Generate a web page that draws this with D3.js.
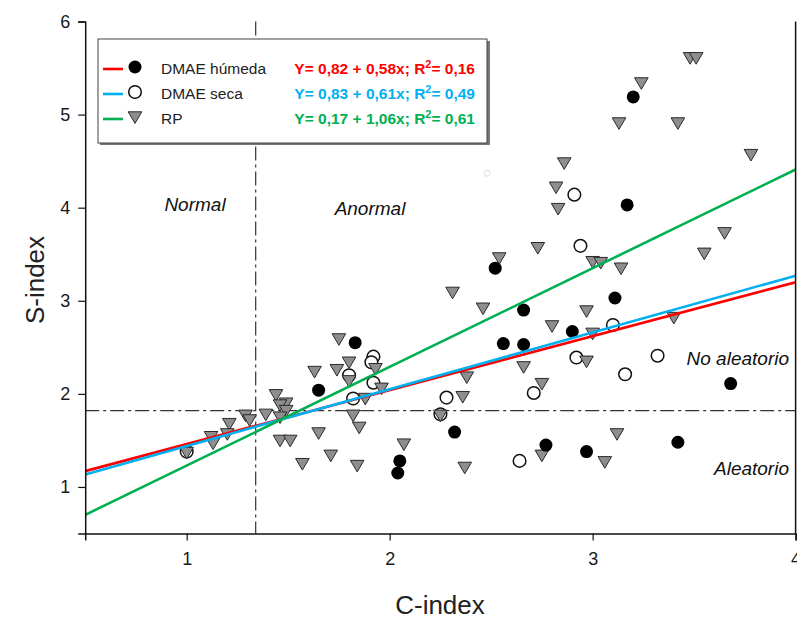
<!DOCTYPE html>
<html>
<head>
<meta charset="utf-8">
<script src="https://cdn.jsdelivr.net/npm/d3@7"></script>
<style>
  body { margin: 0; background: #fff; }
  text { font-family: Arial, "Liberation Sans", sans-serif; }
</style>
</head>
<body>
<div id="graphic"></div>
<script>
// C-index / S-index pairs
const humeda = [
  [1.83, 2.55], [1.65, 2.04], [2.05, 1.28], [2.04, 1.15], [2.32, 1.59],
  [2.52, 3.35], [2.56, 2.54], [2.66, 2.53], [2.66, 2.90], [2.90, 2.67],
  [3.11, 3.03], [3.17, 4.03], [3.20, 5.19], [2.77, 1.45], [2.97, 1.38],
  [3.42, 1.48], [3.68, 2.11]
];
const seca = [
  [1.00, 1.38], [1.92, 2.40], [1.91, 2.34], [1.80, 2.20], [1.92, 2.12],
  [1.82, 1.95], [2.28, 1.96], [2.25, 1.78], [2.64, 1.28], [2.71, 2.01],
  [2.92, 2.39], [3.10, 2.74], [3.16, 2.21], [3.32, 2.41], [2.94, 3.59],
  [2.91, 4.14]
];
const rp = [
  [1.00, 1.37], [1.12, 1.54], [1.13, 1.47], [1.21, 1.68], [1.20, 1.57],
  [1.29, 1.77], [1.31, 1.72], [1.39, 1.78], [1.44, 1.99], [1.49, 1.90],
  [1.46, 1.88], [1.49, 1.82], [1.46, 1.75], [1.46, 1.50], [1.51, 1.50],
  [1.57, 1.25], [1.65, 1.58], [1.71, 1.34], [1.63, 2.24], [1.75, 2.59],
  [1.74, 2.26], [1.80, 2.34], [1.80, 2.14], [1.93, 2.27], [1.96, 2.06],
  [1.88, 1.95], [1.82, 1.77], [1.85, 1.64], [1.84, 1.23], [2.07, 1.46],
  [2.25, 1.77], [2.36, 1.97], [2.38, 2.18], [2.37, 1.21], [2.31, 3.09],
  [2.46, 2.92], [2.54, 3.46], [2.73, 3.57], [2.66, 2.29], [2.75, 2.11],
  [2.80, 2.73], [2.97, 2.35], [3.00, 2.65], [2.97, 2.89], [2.75, 1.34],
  [3.06, 1.27], [3.12, 1.57], [3.00, 3.42], [3.04, 3.41], [3.14, 3.35],
  [3.40, 2.82], [3.55, 3.51], [3.65, 3.73], [3.78, 4.57], [3.42, 4.91],
  [3.13, 4.91], [3.24, 5.34], [3.48, 5.61], [3.51, 5.61], [2.86, 4.48],
  [2.82, 4.22], [2.83, 3.99]
];
const stray = [[2.48, 4.37]];

const seriesNames = ["DMAE húmeda", "DMAE seca", "RP"];
// equations as printed in the legend
const eqIntercepts = ["0,82", "0,83", "0,17"];
const eqSlopes = ["0,58", "0,61", "1,06"];
const r2 = ["0,16", "0,49", "0,61"];
// fitted lines as drawn in the figure
const lineIntercepts = [0.88, 0.83, 0.17];
const lineSlopes = [0.58, 0.61, 1.06];
const colors = ["#ff0000", "#00b0f0", "#00b050"];

const xTicks = [1, 2, 3, 4];
const yTicks = [1, 2, 3, 4, 5, 6];
const cLimit = 1.34;
const sLimit = 1.82;

const W = 797, H = 619;

const svg = d3.select("#graphic")
  .append("svg")
  .attr("width", W)
  .attr("height", H);

const x = d3.scaleLinear().domain([0.5, 4]).range([85.2, 795.6]);
const y = d3.scaleLinear().domain([0.5, 6]).range([533.5, 21.5]);

// threshold lines (dash-dot)
svg.append("line")
  .attr("x1", x(cLimit)).attr("x2", x(cLimit))
  .attr("y1", y(6)).attr("y2", y(0.5))
  .attr("stroke", "#333").attr("stroke-width", 1.2)
  .attr("stroke-dasharray", "14,4,3,4");
svg.append("line")
  .attr("x1", x(0.5)).attr("x2", x(4))
  .attr("y1", y(sLimit)).attr("y2", y(sLimit))
  .attr("stroke", "#333").attr("stroke-width", 1.2)
  .attr("stroke-dasharray", "14,4,3,4");

// points
svg.selectAll(".stray")
  .data(stray)
  .join("circle")
  .attr("cx", d => x(d[0])).attr("cy", d => y(d[1]))
  .attr("r", 3).attr("fill", "none")
  .attr("stroke", "#ddd").attr("stroke-width", 1);

svg.selectAll(".seca")
  .data(seca)
  .join("circle")
  .attr("class", "seca")
  .attr("cx", d => x(d[0])).attr("cy", d => y(d[1]))
  .attr("r", 6.3)
  .attr("fill", "#fff").attr("stroke", "#111").attr("stroke-width", 1.5);

const tri = "M-6.8,-5.2L6.8,-5.2L0,6.4Z";
svg.selectAll(".rp")
  .data(rp)
  .join("path")
  .attr("class", "rp")
  .attr("d", tri)
  .attr("transform", d => `translate(${x(d[0])},${y(d[1])})`)
  .attr("fill", "#8e8e8e").attr("stroke", "#2a2a2a").attr("stroke-width", 1);

svg.selectAll(".humeda")
  .data(humeda)
  .join("circle")
  .attr("class", "humeda")
  .attr("cx", d => x(d[0])).attr("cy", d => y(d[1]))
  .attr("r", 6.5)
  .attr("fill", "#000");

// regression lines
[0, 1, 2].forEach(i => {
  svg.append("line")
    .attr("x1", x(0.5)).attr("y1", y(lineIntercepts[i] + lineSlopes[i] * 0.5))
    .attr("x2", x(4)).attr("y2", y(lineIntercepts[i] + lineSlopes[i] * 4))
    .attr("stroke", colors[i]).attr("stroke-width", 2.6);
});

// axes
const xAxis = svg.append("g")
  .attr("transform", `translate(0,${y(0.5)})`)
  .call(d3.axisBottom(x).tickValues(xTicks).tickSize(7).tickPadding(12).tickFormat(d3.format("d")));
const yAxis = svg.append("g")
  .attr("transform", `translate(${x(0.5)},0)`)
  .call(d3.axisLeft(y).tickValues(yTicks).tickSize(7).tickPadding(8).tickFormat(d3.format("d")));
[xAxis, yAxis].forEach(g => {
  g.select(".domain").attr("stroke", "#111").attr("stroke-width", 1.5);
  g.selectAll(".tick line").attr("stroke", "#111").attr("stroke-width", 1.2);
  g.selectAll(".tick text")
    .attr("fill", "#1a1a1a")
    .style("font-size", "18px")
    .style("font-family", "Arial, 'Liberation Sans', sans-serif");
});
// right border
svg.append("line")
  .attr("x1", x(4)).attr("x2", x(4))
  .attr("y1", y(6)).attr("y2", y(0.5))
  .attr("stroke", "#111").attr("stroke-width", 1.5);

// axis titles
svg.append("text")
  .attr("x", 440).attr("y", 614)
  .attr("text-anchor", "middle")
  .style("font-size", "26px").attr("fill", "#222")
  .text("C-index");
svg.append("text")
  .attr("transform", "translate(44,280) rotate(-90)")
  .attr("text-anchor", "middle")
  .style("font-size", "26px").attr("fill", "#222")
  .text("S-index");

// region labels
const regionLabels = [
  { t: "Normal", x: 195, y: 211, a: "middle" },
  { t: "Anormal", x: 370, y: 215, a: "middle" },
  { t: "No aleatorio", x: 789, y: 365, a: "end" },
  { t: "Aleatorio", x: 789, y: 475, a: "end" }
];
svg.selectAll(".region")
  .data(regionLabels)
  .join("text")
  .attr("x", d => d.x).attr("y", d => d.y)
  .attr("text-anchor", d => d.a)
  .style("font-size", "19px").style("font-style", "italic")
  .attr("fill", "#111")
  .text(d => d.t);

// legend
const lg = svg.append("g");
lg.append("rect")
  .attr("x", 100).attr("y", 41).attr("width", 390).attr("height", 104)
  .attr("fill", "#777");
lg.append("rect")
  .attr("x", 98).attr("y", 39).attr("width", 389).attr("height", 104)
  .attr("fill", "#fff").attr("stroke", "#444").attr("stroke-width", 1);

const rowY = [69, 94, 119];
seriesNames.forEach((name, i) => {
  const ry = rowY[i];
  lg.append("line")
    .attr("x1", 103).attr("x2", 123).attr("y1", ry).attr("y2", ry)
    .attr("stroke", colors[i]).attr("stroke-width", 2.6);
  if (i === 0) {
    lg.append("circle").attr("cx", 135).attr("cy", ry - 2).attr("r", 6.5).attr("fill", "#000");
  } else if (i === 1) {
    lg.append("circle").attr("cx", 135).attr("cy", ry - 2).attr("r", 6.3)
      .attr("fill", "#fff").attr("stroke", "#111").attr("stroke-width", 1.5);
  } else {
    lg.append("path").attr("d", tri).attr("transform", `translate(135,${ry - 2})`)
      .attr("fill", "#8e8e8e").attr("stroke", "#2a2a2a").attr("stroke-width", 1);
  }
  lg.append("text")
    .attr("x", 161).attr("y", ry + 5)
    .style("font-size", "15.5px").attr("fill", "#222")
    .text(name);
  const eq = lg.append("text")
    .attr("x", 475).attr("y", ry + 5)
    .attr("text-anchor", "end")
    .style("font-size", "15.5px").style("font-weight", "bold")
    .attr("fill", colors[i]);
  eq.append("tspan").text(`Y= ${eqIntercepts[i]} + ${eqSlopes[i]}x; R`);
  eq.append("tspan").attr("dy", -6).style("font-size", "11px").text("2");
  eq.append("tspan").attr("dy", 6).text(`= ${r2[i]}`);
});
</script>
</body>
</html>
